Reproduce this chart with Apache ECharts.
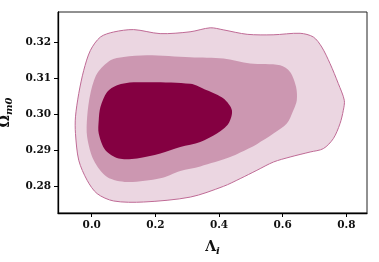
<!DOCTYPE html>
<html><head><meta charset="utf-8">
<script src="https://cdn.jsdelivr.net/npm/echarts@6/dist/echarts.min.js"></script>
<style>html,body{margin:0;padding:0;background:#fff}#c{width:379px;height:262px}</style>
</head><body><div id="c"></div>
<script>
// Contour levels (outer = widest credible region), vertices in data coords [Lambda_i, Omega_m0]
const outerContour = [
[-0.0511,0.2993],[-0.0408,0.30573],[-0.0251,0.31217],[-0.0041,0.3177],[0.0273,0.32138],[0.069,0.32277],
[0.1318,0.32343],[0.2149,0.32232],[0.309,0.32282],[0.3724,0.32393],[0.4132,0.32337],[0.4885,0.32213],
[0.57,0.32199],[0.6547,0.32241],[0.6965,0.32138],[0.7228,0.31862],[0.7489,0.31402],[0.7749,0.30849],
[0.7937,0.30387],[0.7906,0.30111],[0.7802,0.29743],[0.7592,0.29328],[0.7278,0.29051],[0.6861,0.28957],
[0.6234,0.28819],[0.571,0.2868],[0.5189,0.28451],[0.4665,0.28221],[0.4141,0.28008],[0.3097,0.2771],
[0.1631,0.27574],[0.069,0.27602],[0.0169,0.27806],[-0.0144,0.28174],[-0.0408,0.28728],[-0.0511,0.29466]
];
const middleContour = [
[-0.0144,0.29925],[-0.0041,0.30573],[0.0169,0.31126],[0.0587,0.31494],[0.1004,0.31585],[0.1738,0.31632],
[0.3097,0.31577],[0.4141,0.31541],[0.4979,0.31402],[0.592,0.31355],[0.6234,0.3117],[0.6422,0.30755],
[0.6444,0.30387],[0.6337,0.30111],[0.613,0.29743],[0.571,0.29466],[0.5189,0.29175],[0.4665,0.28941],
[0.4351,0.28816],[0.341,0.28557],[0.2783,0.28433],[0.2155,0.28229],[0.1111,0.28127],[0.0483,0.28266],
[0.0063,0.28728],[-0.0144,0.29372]
];
const innerContour = [
[0.022,0.29834],[0.0273,0.30202],[0.0483,0.30617],[0.0797,0.30802],[0.1318,0.30885],[0.3097,0.30844],
[0.362,0.30664],[0.4141,0.30434],[0.4405,0.30111],[0.4298,0.29743],[0.3934,0.29466],[0.341,0.29234],
[0.2783,0.29095],[0.2155,0.28913],[0.1424,0.28775],[0.0847,0.28775],[0.043,0.29004],[0.022,0.29466]
];
const xTicks = [0.0, 0.2, 0.4, 0.6, 0.8];
const yTicks = [0.28, 0.29, 0.30, 0.31, 0.32];

const chart = echarts.init(document.getElementById('c'), null, {renderer:'canvas'});
function polySeries(pts, fill, stroke, lw){
  return {
    type:'custom', coordinateSystem:'cartesian2d', data: pts, silent:true,
    encode:{x:0,y:1},
    renderItem: function(params, api){
      if (params.dataIndex !== 0) return null;
      const p = pts.map(d => api.coord(d));
      return {type:'polygon', shape:{points:p, smooth:0.3},
        style:{fill:fill, stroke:stroke, lineWidth:lw}};
    }
  };
}
const tickFont = {fontFamily:'DejaVu Serif', fontWeight:'bold', fontSize:10.5, color:'#111'};
chart.setOption({
  animation:false,
  grid:{left:58, right:12, top:12, bottom:49, show:true, borderColor:'#222', borderWidth:1,
    containLabel:false, outerBoundsMode:'none'},
  xAxis:{type:'value', min:-0.106, max:0.865, interval:0.2,
    axisLine:{show:true, onZero:false, lineStyle:{color:'#000', width:1.3}},
    axisTick:{show:true, length:4, lineStyle:{color:'#000'}, customValues: xTicks},
    axisLabel:Object.assign({margin:7, formatter:v=>v.toFixed(1), customValues: xTicks}, tickFont),
    splitLine:{show:false},
    name:'{a|Λ}{b|i}', nameLocation:'middle', nameGap:25,
    nameTextStyle:{rich:{a:{fontFamily:'DejaVu Serif', fontWeight:'bold', fontSize:14, color:'#111'},
      b:{fontFamily:'DejaVu Serif', fontWeight:'bold', fontStyle:'italic', fontSize:10, color:'#111', padding:[8,0,0,0]}}}
  },
  yAxis:{type:'value', min:0.2727, max:0.3283,
    axisLine:{show:true, onZero:false, lineStyle:{color:'#000', width:1.3}},
    axisTick:{show:true, length:4, lineStyle:{color:'#000'}, customValues: yTicks},
    axisLabel:Object.assign({margin:7, formatter:v=>v.toFixed(2), customValues: yTicks}, tickFont),
    splitLine:{show:false},
    name:'{a|Ω}{b|m0}', nameLocation:'middle', nameGap:40,
    nameTextStyle:{rich:{a:{fontFamily:'DejaVu Serif', fontWeight:'bold', fontSize:14, color:'#111'},
      b:{fontFamily:'DejaVu Serif', fontWeight:'bold', fontStyle:'italic', fontSize:10, color:'#111', padding:[8,0,0,0]}}}
  },
  series:[
    polySeries(outerContour, '#ebd6e1', '#bf6a95', 1),
    polySeries(middleContour, '#cc97b1', null, 0),
    polySeries(innerContour, '#840041', null, 0)
  ]
});
</script></body></html>
